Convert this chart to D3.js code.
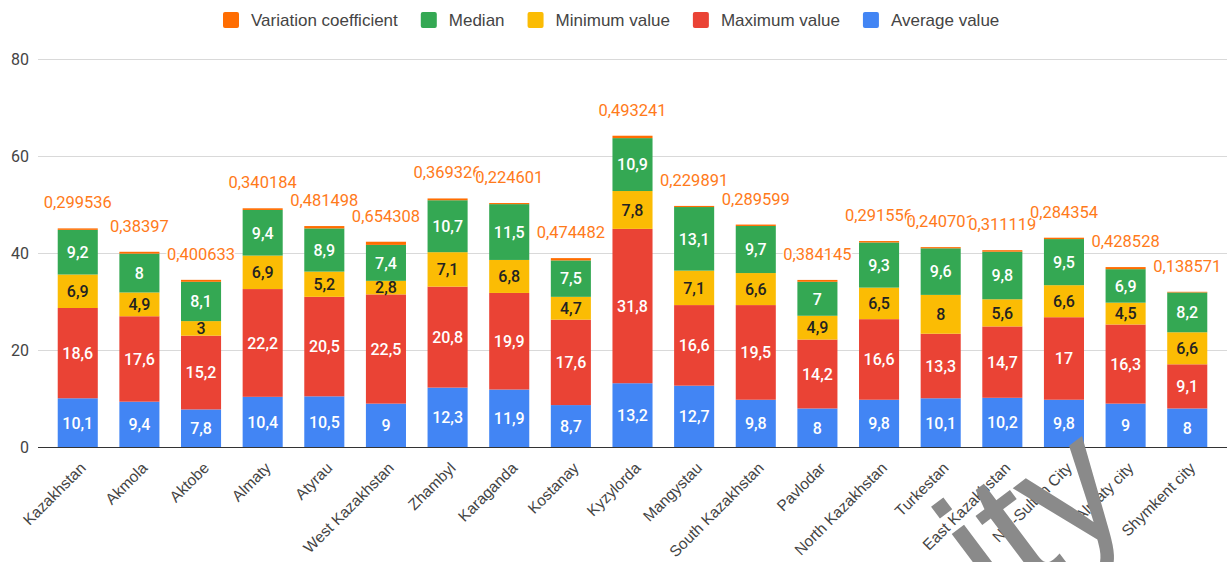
<!DOCTYPE html>
<html>
<head>
<meta charset="utf-8">
<script src="https://cdn.jsdelivr.net/npm/d3@7"></script>
<style>
    body { margin: 0; background: #fff; }
    svg { display: block; }
</style>
</head>
<body>
<div id="chart"></div>
<script>
const regions = ['Kazakhstan', 'Akmola', 'Aktobe', 'Almaty', 'Atyrau', 'West Kazakhstan', 'Zhambyl',
    'Karaganda', 'Kostanay', 'Kyzylorda', 'Mangystau', 'South Kazakhstan', 'Pavlodar', 'North Kazakhstan',
    'Turkestan', 'East Kazakhstan', 'Nur-Sultan City', 'Almaty city', 'Shymkent city'];

const averageValue = [10.1, 9.4, 7.8, 10.4, 10.5, 9, 12.3, 11.9, 8.7, 13.2, 12.7, 9.8, 8, 9.8, 10.1, 10.2, 9.8, 9, 8];
const maximumValue = [18.6, 17.6, 15.2, 22.2, 20.5, 22.5, 20.8, 19.9, 17.6, 31.8, 16.6, 19.5, 14.2, 16.6, 13.3, 14.7, 17, 16.3, 9.1];
const minimumValue = [6.9, 4.9, 3, 6.9, 5.2, 2.8, 7.1, 6.8, 4.7, 7.8, 7.1, 6.6, 4.9, 6.5, 8, 5.6, 6.6, 4.5, 6.6];
const median = [9.2, 8, 8.1, 9.4, 8.9, 7.4, 10.7, 11.5, 7.5, 10.9, 13.1, 9.7, 7, 9.3, 9.6, 9.8, 9.5, 6.9, 8.2];
const variationCoef = [0.299536, 0.38397, 0.400633, 0.340184, 0.481498, 0.654308, 0.369326, 0.224601, 0.474482,
    0.493241, 0.229891, 0.289599, 0.384145, 0.291556, 0.240701, 0.311119, 0.284354, 0.428528, 0.138571];

const yTicks = [0, 20, 40, 60, 80];

// stacking order, bottom to top
const series = [
    {name: 'Average value', values: averageValue, color: '#4285F4', text: '#fff'},
    {name: 'Maximum value', values: maximumValue, color: '#EA4335', text: '#fff'},
    {name: 'Minimum value', values: minimumValue, color: '#FBBC04', text: '#222'},
    {name: 'Median', values: median, color: '#34A853', text: '#fff'},
    {name: 'Variation coefficient', values: variationCoef, color: '#FF6D01', text: '#FF7A1A'}
];

const width = 1227, height = 562;
const fmt = v => String(v).replace('.', ',');

const svg = d3.select('#chart').append('svg')
    .attr('width', width)
    .attr('height', height);

const x = d3.scaleBand()
    .domain(regions)
    .range([38, 1227])
    .paddingInner(0.35)
    .paddingOuter(0.32);

const y = d3.scaleLinear()
    .domain([0, 80])
    .range([447.3, 59]);

// grid
svg.append('g')
    .selectAll('line')
    .data(yTicks.filter(t => t > 0))
    .enter()
    .append('line')
    .attr('x1', 38).attr('x2', 1227)
    .attr('y1', d => Math.round(y(d)) + 0.5)
    .attr('y2', d => Math.round(y(d)) + 0.5)
    .attr('stroke', '#d9d9d9');

// y axis labels
const yAxis = svg.append('g')
    .attr('transform', 'translate(29,0)')
    .call(d3.axisLeft(y).tickValues(yTicks).tickSize(0).tickPadding(0));
yAxis.select('.domain').remove();
yAxis.selectAll('text')
    .attr('font-family', 'Roboto, Arial, sans-serif')
    .attr('font-size', 16)
    .attr('fill', '#444');

// stacked bars
const table = regions.map((r, i) => {
    const row = {region: r};
    series.forEach(s => { row[s.name] = s.values[i]; });
    return row;
});
const stack = d3.stack().keys(series.map(s => s.name))(table);

const layers = svg.append('g')
    .selectAll('g')
    .data(stack)
    .enter()
    .append('g')
    .attr('fill', (d, i) => series[i].color);

layers.selectAll('rect')
    .data(d => d)
    .enter()
    .append('rect')
    .attr('x', d => x(d.data.region))
    .attr('width', x.bandwidth())
    .attr('y', d => y(d[1]))
    .attr('height', d => y(d[0]) - y(d[1]));

// baseline
svg.append('line')
    .attr('x1', 38).attr('x2', 1227)
    .attr('y1', Math.round(y(0)) + 0.5)
    .attr('y2', Math.round(y(0)) + 0.5)
    .attr('stroke', '#333');

// labels inside segments
stack.slice(0, 4).forEach((layer, si) => {
    svg.append('g')
        .selectAll('text')
        .data(layer)
        .enter()
        .append('text')
        .attr('x', d => x(d.data.region) + x.bandwidth() / 2)
        .attr('y', d => (y(d[0]) + y(d[1])) / 2)
        .attr('dy', '0.36em')
        .attr('text-anchor', 'middle')
        .attr('font-family', 'Roboto, Arial, sans-serif')
        .attr('font-size', 16)
        .attr('font-weight', 500)
        .attr('fill', series[si].text)
        .text(d => fmt(d.data[series[si].name]));
});

// variation coefficient labels above bars, drawn with a white halo
const vcLayer = stack[4];
svg.append('g')
    .selectAll('text')
    .data(vcLayer)
    .enter()
    .append('text')
    .attr('x', d => x(d.data.region) + x.bandwidth() / 2)
    .attr('y', d => y(d[1]) - 20)
    .attr('text-anchor', 'middle')
    .attr('font-family', 'Roboto, Arial, sans-serif')
    .attr('font-size', 16.5)
    .attr('fill', series[4].text)
    .attr('stroke', '#fff')
    .attr('stroke-width', 3)
    .attr('paint-order', 'stroke')
    .text(d => fmt(d.data['Variation coefficient']));

// category labels
svg.append('g')
    .selectAll('text')
    .data(regions)
    .enter()
    .append('text')
    .attr('transform', d => `translate(${x(d) + x.bandwidth() / 2 + 9}, 469) rotate(-45)`)
    .attr('text-anchor', 'end')
    .attr('font-family', 'Arial, "Liberation Sans", sans-serif')
    .attr('font-size', 15.5)
    .attr('fill', '#444')
    .text(d => d);

// legend, reversed order
const legend = svg.append('g').attr('transform', 'translate(223,20)');
let lx = 0;
series.slice().reverse().forEach(s => {
    const g = legend.append('g').attr('transform', `translate(${lx},0)`);
    g.append('rect')
        .attr('x', 0).attr('y', -8)
        .attr('width', 16).attr('height', 16)
        .attr('rx', 2)
        .attr('fill', s.color);
    const t = g.append('text')
        .attr('x', 28)
        .attr('dy', '0.35em')
        .attr('font-family', 'Arial, "Liberation Sans", sans-serif')
        .attr('font-size', 17)
        .attr('fill', '#444')
        .text(s.name);
    lx += 28 + t.node().getComputedTextLength() + 23;
});

// watermark fragment over the bottom right
svg.append('text')
    .attr('transform', 'translate(998,615) rotate(-37)')
    .attr('font-family', 'Arial, "Liberation Sans", sans-serif')
    .attr('font-size', 175)
    .attr('fill', '#8a8a8a')
    .text('ity');
</script>
</body>
</html>
